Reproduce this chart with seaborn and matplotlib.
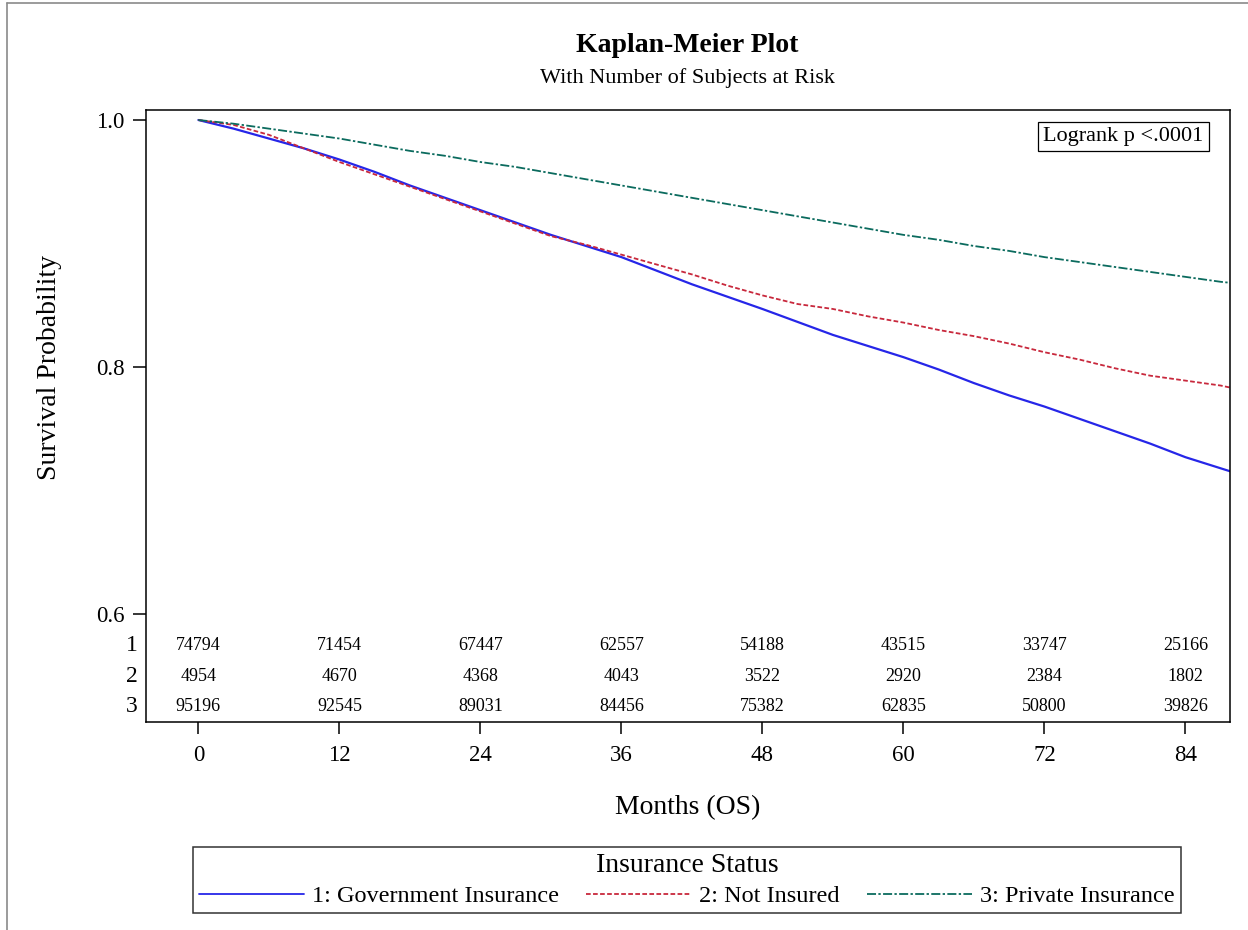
import matplotlib
matplotlib.use("Agg")
import matplotlib.pyplot as plt
from matplotlib.lines import Line2D
import pandas as pd
import seaborn as sns

# ---- data -------------------------------------------------------------
groups = ["1: Government Insurance", "2: Not Insured", "3: Private Insurance"]

months = [0, 3, 6, 9, 12, 15, 18, 21, 24, 27, 30, 33, 36, 39, 42, 45, 48,
          51, 54, 57, 60, 63, 66, 69, 72, 75, 78, 81, 84, 87, 88]

surv_government = [1.000, 0.993, 0.985, 0.977, 0.968, 0.958, 0.947, 0.937,
                   0.927, 0.917, 0.907, 0.898, 0.889, 0.878, 0.867, 0.857,
                   0.847, 0.8365, 0.826, 0.817, 0.808, 0.798, 0.787, 0.777,
                   0.768, 0.758, 0.748, 0.738, 0.727, 0.718, 0.715]

surv_not_insured = [1.000, 0.996, 0.988, 0.977, 0.966, 0.956, 0.946, 0.936,
                    0.926, 0.916, 0.906, 0.899, 0.891, 0.883, 0.875, 0.866,
                    0.858, 0.851, 0.847, 0.841, 0.836, 0.830, 0.825, 0.819,
                    0.812, 0.806, 0.799, 0.793, 0.789, 0.785, 0.783]

surv_private = [1.000, 0.997, 0.993, 0.989, 0.985, 0.980, 0.975, 0.971,
                0.966, 0.962, 0.957, 0.952, 0.947, 0.942, 0.937, 0.932,
                0.927, 0.922, 0.917, 0.912, 0.907, 0.903, 0.898, 0.894,
                0.889, 0.885, 0.881, 0.877, 0.873, 0.869, 0.868]

risk_times = [0, 12, 24, 36, 48, 60, 72, 84]
risk_government = [74794, 71454, 67447, 62557, 54188, 43515, 33747, 25166]
risk_not_insured = [4954, 4670, 4368, 4043, 3522, 2920, 2384, 1802]
risk_private = [95196, 92545, 89031, 84456, 75382, 62835, 50800, 39826]
risk_row_labels = ["1", "2", "3"]

y_ticks = [0.6, 0.8, 1.0]

# ---- styling ----------------------------------------------------------
sns.set_style("ticks")
plt.rcParams["font.family"] = ["Liberation Serif", "DejaVu Serif"]
plt.rcParams.update({
    "axes.linewidth": 1.1,
    "text.color": "black",
    "axes.labelcolor": "black",
    "xtick.color": "black",
    "ytick.color": "black",
    "axes.edgecolor": "black",
})

colors = {groups[0]: "#2626E8", groups[1]: "#C8283C", groups[2]: "#0B6B5E"}
dash_styles = {groups[0]: "", groups[1]: (2.6, 1.3), groups[2]: (5, 1.3, 1.3, 1.3)}

W, H = 1248, 930
fig = plt.figure(figsize=(W / 100, H / 100), dpi=100)

ax_left, ax_right, ax_top, ax_bottom = 145.5, 1229.5, 110, 722
ax = fig.add_axes([ax_left / W, 1 - ax_bottom / H,
                   (ax_right - ax_left) / W, (ax_bottom - ax_top) / H])

df = pd.concat([
    pd.DataFrame({"Months": months, "Survival": s, "Group": g})
    for g, s in zip(groups, [surv_government, surv_not_insured, surv_private])
])

sns.lineplot(data=df, x="Months", y="Survival", hue="Group", style="Group",
             hue_order=groups, style_order=groups, palette=colors,
             dashes=dash_styles, linewidth=1.3, ax=ax, estimator=None)

handles, labels = ax.get_legend_handles_labels()
if ax.get_legend() is not None:
    ax.get_legend().remove()
ax.get_lines()[0].set_linewidth(1.6)

# axis limits and ticks
ax.set_xlim(-4.5, 87.75)
ax.set_ylim(0.5126, 1.0081)
ax.set_xticks(risk_times)
ax.set_xticklabels([str(t) for t in risk_times], fontsize=16.5)
ax.set_yticks(y_ticks)
ax.set_yticklabels([f"{v:.1f}" for v in y_ticks], fontsize=16.5)
ax.tick_params(axis="x", length=8.6, width=1.1, pad=8, color="black",
               labelcolor="black")
ax.tick_params(axis="y", length=9.4, width=1.1, pad=5.5, color="black",
               labelcolor="black")
ax.set_xlabel("")
ax.set_ylabel("")
for sp in ax.spines.values():
    sp.set_visible(True)
    sp.set_color("black")

# number-at-risk table inside the plot area
row_frac = [(ax_bottom - y) / (ax_bottom - ax_top) for y in (645, 676, 706)]
for yf, counts, lab in zip(row_frac,
                           [risk_government, risk_not_insured, risk_private],
                           risk_row_labels):
    for t, n in zip(risk_times, counts):
        ax.text(t, yf, str(n), transform=ax.get_xaxis_transform(),
                ha="center", va="center", fontsize=13, color="black")
    ax.text(-8 / (ax_right - ax_left), yf, lab, transform=ax.transAxes,
            ha="right", va="center", fontsize=17, color="black")

# log-rank annotation
ax.text((1123.5 - ax_left) / (ax_right - ax_left),
        (ax_bottom - 136.5) / (ax_bottom - ax_top),
        "Logrank p <.0001", transform=ax.transAxes, ha="center", va="center",
        fontsize=16, color="black",
        bbox=dict(boxstyle="square,pad=0.22", fc="white", ec="black", lw=0.9))

# titles and axis labels
cx = (ax_left + ax_right) / 2 / W
fig.text(cx, 1 - 45 / H, "Kaplan-Meier Plot", ha="center", va="center",
         fontsize=20, fontweight="bold", color="black")
fig.text(cx, 1 - 78 / H, "With Number of Subjects at Risk", ha="center",
         va="center", fontsize=16, color="black")
fig.text(cx, 1 - 808 / H, "Months (OS)", ha="center", va="center",
         fontsize=20, color="black")
fig.text(50 / W, 1 - 367 / H, "Survival Probability", ha="center",
         va="center", rotation=90, fontsize=20, color="black")

# legend below the plot
leg = fig.legend(handles, labels, loc="center",
                 bbox_to_anchor=(193 / W, 1 - 914 / H, 988 / W, 68 / H),
                 ncol=3, mode="expand", title="Insurance Status",
                 fontsize=17.5, title_fontsize=20, frameon=True, fancybox=False,
                 edgecolor="black", handlelength=4.3, handletextpad=0.35,
                 columnspacing=0.5, borderpad=0.25, labelspacing=0.3,
                 borderaxespad=0)
leg.get_frame().set_linewidth(1.1)
leg.get_title().set_color("black")
for txt in leg.get_texts():
    txt.set_color("black")

# outer frame of the graphic
fig.add_artist(Line2D([6.5 / W, 6.5 / W], [0, 1 - 3.5 / H], color="#8a8a8a",
                      lw=1.2, transform=fig.transFigure))
fig.add_artist(Line2D([6.5 / W, 1], [1 - 3.5 / H, 1 - 3.5 / H],
                      color="#8a8a8a", lw=1.2, transform=fig.transFigure))

fig.savefig("out.png", dpi=100, facecolor="white")
